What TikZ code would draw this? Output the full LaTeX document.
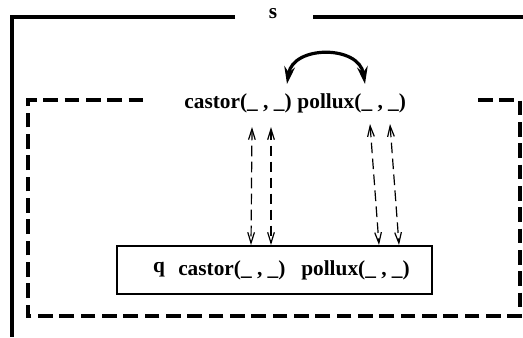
\documentclass[tikz,border=0pt]{standalone}
\usepackage{fontspec}
\setmainfont{Liberation Serif}
\usetikzlibrary{arrows.meta,positioning}

\begin{document}
\begin{tikzpicture}[x=0.75pt,y=-0.75pt]
	\tikzstyle{every node}=[font=\fontsize{16}{19}\selectfont\bfseries,inner sep=0pt]
	\tikzstyle{frame}=[line width=2.6pt]
	\tikzstyle{scope box}=[line width=2.4pt,dash pattern=on 11pt off 5pt]
	\tikzstyle{link}=[line width=0.9pt,dash pattern=on 8pt off 4pt,
		{Straight Barb[length=8pt,width=5pt]}-{Straight Barb[length=8pt,width=5pt]}]
	\tikzstyle{swap}=[line width=2.4pt,{Stealth[length=13pt,width=8pt]}-{Stealth[length=13pt,width=8pt]}]
	\useasboundingbox (0,0) rectangle (523,337);
	% outer module
	\node (s) at (273,14) {s};
	\draw[frame] (235,17) -- (12,17) -- (12,337);
	\draw[frame] (313,17) -- (523,17);
	% dashed scope
	\draw[scope box] (478,100) -- (520,100) -- (520,316) -- (28,316) -- (28,100) -- (145,100);
	\node (castor) at (238,103) {castor(\_ , \_)};
	\node (pollux) [right=4pt of castor] {pollux(\_ , \_)};
	% box q
	\node[draw,line width=0.8pt,minimum width=236.25pt,minimum height=36pt] (qbox) at (274.5,270) {};
	\node (q) at (159,270) {q};
	\node (qcastor) [anchor=west] at (178,270) {castor(\_ , \_)};
	\node (qpollux) [anchor=west] at (301,270) {pollux(\_ , \_)};
	% links
	\foreach \n/\xa/\ya/\xb in {1/252/127/251, 2/271/127/271, 3/370/124/379, 4/390/124/399} {
		\coordinate (up\n) at (\xa,\ya);
		\coordinate (down\n) at (\xb,245);
		\draw[link] (up\n) -- (down\n);
	}
	\coordinate (swapl) at (287,84);
	\coordinate (swapr) at (365,84);
	\draw[swap] (swapl) .. controls (293,45) and (359,45) .. (swapr);
\end{tikzpicture}
\end{document}
